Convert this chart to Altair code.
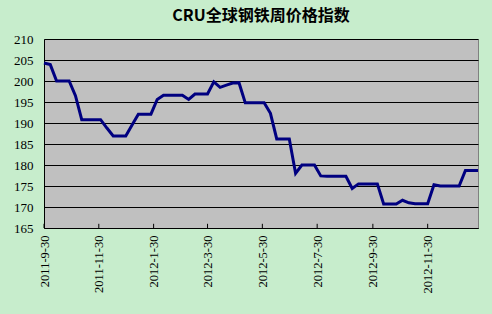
import altair as alt
import pandas as pd

title_text = "CRU全球钢铁周价格指数"
start_date = "2011-09-30"
n_weeks = 70
index_values = [
    204.3, 203.9, 200.0, 200.0, 200.0, 196.5, 190.8, 190.8, 190.8, 190.8,
    188.8, 186.9, 186.9, 186.9, 189.5, 192.1, 192.1, 192.1, 195.6, 196.6,
    196.6, 196.6, 196.6, 195.6, 196.9, 196.9, 196.9, 199.8, 198.5, 199.0,
    199.5, 199.6, 194.8, 194.8, 194.8, 194.8, 192.3, 186.2, 186.2, 186.2,
    178.0, 180.0, 180.0, 180.0, 177.4, 177.3, 177.3, 177.3, 177.3, 174.4,
    175.5, 175.5, 175.5, 175.5, 170.7, 170.7, 170.7, 171.6, 171.0, 170.8,
    170.8, 170.8, 175.3, 175.0, 175.0, 175.0, 175.0, 178.7, 178.7, 178.7,
]
tick_dates = ["2011-09-30", "2011-11-30", "2012-01-30", "2012-03-30",
              "2012-05-30", "2012-07-30", "2012-09-30", "2012-11-30"]
y_ticks = [165, 170, 175, 180, 185, 190, 195, 200, 205, 210]

dates = pd.date_range(start_date, periods=n_weeks, freq="7D")
df = pd.DataFrame({"date": dates.strftime("%Y-%m-%d"), "value": index_values})
ticks_df = pd.DataFrame({"date": tick_dates})

SERIF = "Liberation Serif"


def dt(s):
    y, m, d = (int(p) for p in s.split("-"))
    return alt.DateTime(year=y, month=m, date=d, utc=True)


x_scale = alt.Scale(type="utc", domain=[dt(df["date"].iloc[0]), dt(df["date"].iloc[-1])])
y_scale = alt.Scale(domain=[165, 210], nice=False, zero=False)

x_axis = alt.Axis(values=[dt(t) for t in tick_dates],
                  labelExpr="utcFormat(datum.value, '%Y-%-m-%-d')",
                  labelAngle=270, tickSize=0, labelPadding=7,
                  domainColor="black", domainWidth=1, grid=False,
                  labelFont=SERIF, labelFontSize=12.5,
                  labelColor="black", labelOverlap=False)
y_axis = alt.Axis(values=y_ticks, tickSize=0, labelPadding=11,
                  domainColor="black", domainWidth=1,
                  grid=True, gridColor="black", gridWidth=1, gridOpacity=1,
                  labelFont=SERIF, labelFontSize=13,
                  labelColor="black", labelOverlap=False)

line = alt.Chart(df).mark_line(color="#000080", strokeWidth=3).encode(
    x=alt.X("date:T", scale=x_scale, title=None, axis=x_axis),
    y=alt.Y("value:Q", scale=y_scale, title=None, axis=y_axis),
)

tick_marks = alt.Chart(ticks_df).mark_rule(color="black", strokeWidth=1).encode(
    x=alt.X("date:T", scale=x_scale, title=None, axis=x_axis),
    y=alt.Y(datum=165, type="quantitative", scale=y_scale, title=None, axis=y_axis),
    y2=alt.Y2(datum=166),
)

chart = alt.layer(line, tick_marks).properties(
    width=434,
    height=189,
    title=alt.TitleParams(title_text, font="Noto Sans CJK SC", fontSize=16,
                          fontWeight="bold", color="black", anchor="middle",
                          offset=9),
    autosize=alt.AutoSizeParams(type="none"),
    padding={"left": 44, "top": 39, "right": 14, "bottom": 86},
    background="#C7EDCC",
).configure_view(fill="#C0C0C0", stroke="#808080", strokeWidth=1)

chart.save("out.html", embed_options={"renderer": "svg", "actions": False})
